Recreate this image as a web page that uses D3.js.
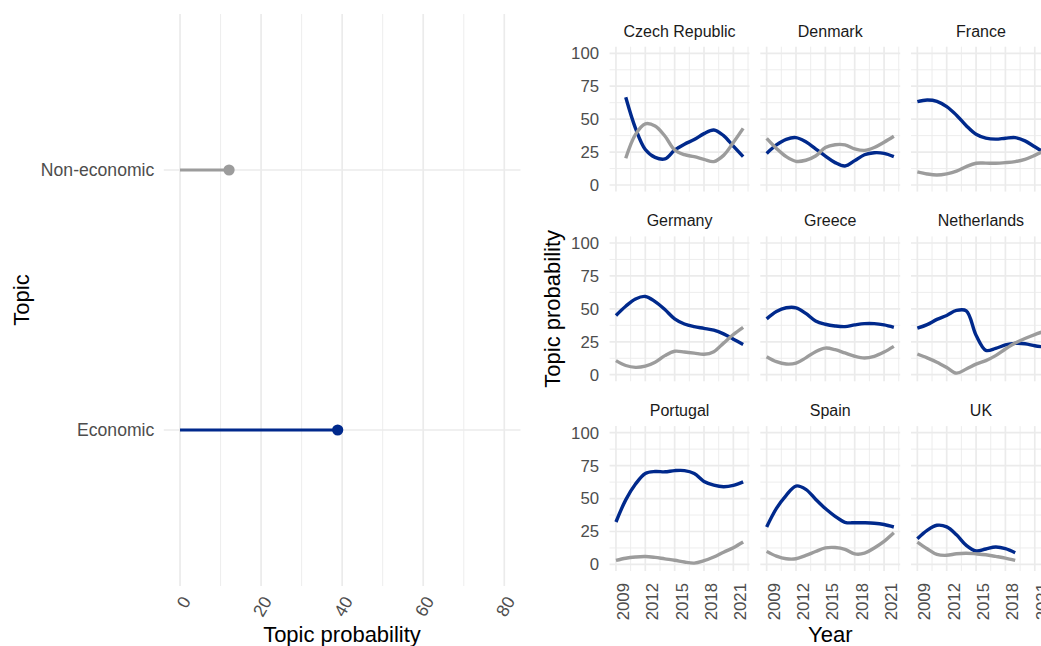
<!DOCTYPE html>
<html>
<head>
<meta charset="utf-8">
<script src="https://cdn.jsdelivr.net/npm/d3@7"></script>
<style>
  body { margin: 0; background: #fff; }
  text { font-family: "Liberation Sans", Arial, sans-serif; }
</style>
</head>
<body>
<svg id="chart" width="1041" height="646"></svg>
<script>
// overall mean per topic (left panel)
var topics = ["Economic", "Non-economic"];
var topicMeans = [38.9, 12.1];
var probTicks = [0, 20, 40, 60, 80];
var probMinor = [10, 30, 50, 70];

// country facets
var countries = ["Czech Republic", "Denmark", "France", "Germany", "Greece",
                 "Netherlands", "Portugal", "Spain", "UK"];
var startYears = [2010, 2009, 2009, 2009, 2009, 2009, 2009, 2009, 2009];
var yearTicks = [2009, 2012, 2015, 2018, 2021];
var yearMinor = [2010.5, 2013.5, 2016.5, 2019.5, 2022.5];
var facetTicks = [0, 25, 50, 75, 100];
var facetMinor = [12.5, 37.5, 62.5, 87.5];

// yearly smoothed values, one row per country (same order as countries)
var economicSeries = [
  [66.6, 43, 27, 21, 19.8, 26.5, 31, 34.5, 39, 41.8, 37.5, 29.5, 21.5],
  [24, 30.4, 34.7, 36, 32.8, 27.5, 22, 17, 14.4, 18.5, 23, 24.5, 24, 21.5],
  [63.3, 64.5, 63.5, 59.5, 53, 45, 38.5, 35.6, 34.8, 35.5, 36, 33.5, 29, 24.5],
  [45, 52, 57.5, 59.4, 55.5, 49.5, 42.4, 38.5, 36.5, 35.2, 33.8, 31, 27, 23],
  [42.4, 48, 50.8, 50.8, 46.5, 40.8, 38.3, 37, 36.5, 37.8, 38.8, 38.8, 37.8, 36],
  [35.3, 38, 42, 45, 48.8, 48.5, 30, 18.5, 20, 22.6, 23.8, 23.5, 22, 21],
  [32.2, 49, 61, 69, 70.5, 70.3, 71.2, 71.2, 69, 63, 60.2, 59, 60, 62.7],
  [28.4, 42.5, 52.5, 59.5, 57, 49.5, 42.4, 36.5, 32, 31.6, 31.6, 31.3, 30.3, 28.4],
  [19.5, 25.9, 29.7, 28.5, 22.5, 14.5, 10.2, 11.7, 13.2, 12, 8.9]
];
var nonEconomicSeries = [
  [20.3, 38.5, 46.5, 44.8, 37.2, 26.6, 23, 21.5, 19.5, 17.8, 22.5, 32.3, 43],
  [35.4, 27.8, 21.5, 18, 18.8, 22, 28.4, 30.6, 30.5, 27.5, 26.3, 28.5, 32.5, 37],
  [10, 8.4, 7.6, 8.5, 10.5, 14, 16.5, 16.6, 16.5, 17, 17.8, 19.5, 22.5, 26],
  [10.7, 7, 5.6, 6.5, 9.5, 14.5, 17.8, 17.2, 16.4, 15.5, 17.5, 24, 30.5, 36],
  [13.7, 9.9, 8.1, 8.8, 12.8, 17.5, 20.2, 19, 16.5, 14, 12.7, 14, 17.2, 21.5],
  [15.7, 12.8, 9.5, 5.5, 1.2, 4.3, 8, 10.7, 14.5, 19.5, 24, 27.5, 30.5, 33],
  [3, 4.7, 5.6, 6, 5.3, 4.2, 3.2, 1.8, 1, 2.8, 5.6, 9.3, 12.7, 17],
  [9.9, 6.3, 4.3, 4.3, 6.8, 9.8, 12.5, 12.8, 11.5, 8, 8.5, 12.5, 17.5, 24],
  [17, 11.9, 7.6, 6.9, 8.1, 8.5, 8, 7.3, 6.1, 4.8, 3]
];

var blue = "#00298C";
var grey = "#9C9C9C";
var gridCol = "#EBEBEB";
var svg = d3.select("#chart");

// ---------- left panel: lollipop ----------
var x = d3.scaleLinear().domain([-4, 84]).range([163.8, 520.5]);
var y = d3.scalePoint().domain(["Non-economic", "Economic"]).range([170, 430]);
var left = svg.append("g");

left.selectAll("line.minor").data(probMinor).enter().append("line")
  .attr("x1", function (d) { return x(d); }).attr("x2", function (d) { return x(d); })
  .attr("y1", 14).attr("y2", 586)
  .attr("stroke", gridCol).attr("stroke-width", 0.9);
left.selectAll("line.major").data(probTicks).enter().append("line")
  .attr("x1", function (d) { return x(d); }).attr("x2", function (d) { return x(d); })
  .attr("y1", 14).attr("y2", 586)
  .attr("stroke", gridCol).attr("stroke-width", 1.7);
left.selectAll("line.hgrid").data(topics).enter().append("line")
  .attr("x1", 163.8).attr("x2", 520.5)
  .attr("y1", function (d) { return y(d); }).attr("y2", function (d) { return y(d); })
  .attr("stroke", gridCol).attr("stroke-width", 1.7);

topics.forEach(function (t, i) {
  var c = t === "Economic" ? blue : grey;
  left.append("line")
    .attr("x1", x(0)).attr("x2", x(topicMeans[i]))
    .attr("y1", y(t)).attr("y2", y(t))
    .attr("stroke", c).attr("stroke-width", 2.8);
  left.append("circle")
    .attr("cx", x(topicMeans[i])).attr("cy", y(t)).attr("r", 5.6)
    .attr("fill", c);
});

var xAxisL = left.append("g").attr("transform", "translate(0,586)")
  .call(d3.axisBottom(x).tickValues(probTicks).tickSize(0));
xAxisL.select(".domain").remove();
xAxisL.selectAll("text")
  .attr("x", 0).attr("y", 0).attr("dy", "0.35em")
  .attr("transform", "translate(5.5,12) rotate(-60)")
  .attr("text-anchor", "end")
  .attr("fill", "#4D4D4D").style("font-size", "17.6px");

var yAxisL = left.append("g").attr("transform", "translate(163.8,0)")
  .call(d3.axisLeft(y).tickSize(0).tickPadding(9.5));
yAxisL.select(".domain").remove();
yAxisL.selectAll("text").attr("fill", "#4D4D4D").style("font-size", "17.6px");

left.append("text").attr("x", 342).attr("y", 642)
  .attr("text-anchor", "middle").style("font-size", "22px")
  .text("Topic probability");
left.append("text").attr("transform", "translate(29,300) rotate(-90)")
  .attr("text-anchor", "middle").style("font-size", "22px")
  .text("Topic");

// ---------- right panel: facets ----------
var colX = [609.6, 760.3, 911.0];
var rowY = [46.7, 236.4, 426.1];
var panelW = 139.9, panelH = 144.9;
var xYear = d3.scaleLinear().domain([2008.35, 2022.65]).range([0, panelW]);
var yProb = d3.scaleLinear().domain([-5, 105]).range([panelH, 0]);

var line = d3.line()
  .x(function (d) { return xYear(d[0]); })
  .y(function (d) { return yProb(d[1]); })
  .curve(d3.curveCatmullRom.alpha(0.5));

countries.forEach(function (name, i) {
  var col = i % 3, row = Math.floor(i / 3);
  var g = svg.append("g")
    .attr("transform", "translate(" + colX[col] + "," + rowY[row] + ")");

  g.selectAll("line.vmin").data(yearMinor).enter().append("line")
    .attr("x1", function (d) { return xYear(d); }).attr("x2", function (d) { return xYear(d); })
    .attr("y1", 0).attr("y2", panelH)
    .attr("stroke", gridCol).attr("stroke-width", 0.9);
  g.selectAll("line.hmin").data(facetMinor).enter().append("line")
    .attr("x1", 0).attr("x2", panelW)
    .attr("y1", function (d) { return yProb(d); }).attr("y2", function (d) { return yProb(d); })
    .attr("stroke", gridCol).attr("stroke-width", 0.9);
  g.selectAll("line.vmaj").data(yearTicks).enter().append("line")
    .attr("x1", function (d) { return xYear(d); }).attr("x2", function (d) { return xYear(d); })
    .attr("y1", 0).attr("y2", panelH)
    .attr("stroke", gridCol).attr("stroke-width", 1.7);
  g.selectAll("line.hmaj").data(facetTicks).enter().append("line")
    .attr("x1", 0).attr("x2", panelW)
    .attr("y1", function (d) { return yProb(d); }).attr("y2", function (d) { return yProb(d); })
    .attr("stroke", gridCol).attr("stroke-width", 1.7);

  // strip label
  g.append("text").attr("x", panelW / 2).attr("y", -15.7)
    .attr("text-anchor", "middle").attr("dominant-baseline", "central")
    .attr("fill", "#1A1A1A").style("font-size", "16px")
    .text(name);

  var econ = economicSeries[i].map(function (v, k) { return [startYears[i] + k, v]; });
  var nonEcon = nonEconomicSeries[i].map(function (v, k) { return [startYears[i] + k, v]; });

  g.append("path").attr("d", line(econ))
    .attr("fill", "none").attr("stroke", blue).attr("stroke-width", 3.4);
  g.append("path").attr("d", line(nonEcon))
    .attr("fill", "none").attr("stroke", grey).attr("stroke-width", 3.4);

  if (col === 0) {
    var ya = g.append("g")
      .call(d3.axisLeft(yProb).tickValues(facetTicks).tickSize(0).tickPadding(10.5));
    ya.select(".domain").remove();
    ya.selectAll("text").attr("fill", "#4D4D4D").style("font-size", "16.8px");
  }
  if (row === 2) {
    var xa = g.append("g").attr("transform", "translate(0," + panelH + ")")
      .call(d3.axisBottom(xYear).tickValues(yearTicks).tickFormat(d3.format("d")).tickSize(0));
    xa.select(".domain").remove();
    xa.selectAll("text")
      .attr("x", -12).attr("y", 6.5).attr("dy", "0.35em")
      .attr("transform", "rotate(-90)")
      .attr("text-anchor", "end")
      .attr("fill", "#4D4D4D").style("font-size", "16.8px");
  }
});

svg.append("text").attr("transform", "translate(560,308.8) rotate(-90)")
  .attr("text-anchor", "middle").style("font-size", "22px")
  .text("Topic probability");
svg.append("text").attr("x", 830.3).attr("y", 642)
  .attr("text-anchor", "middle").style("font-size", "22px")
  .text("Year");
</script>
</body>
</html>
